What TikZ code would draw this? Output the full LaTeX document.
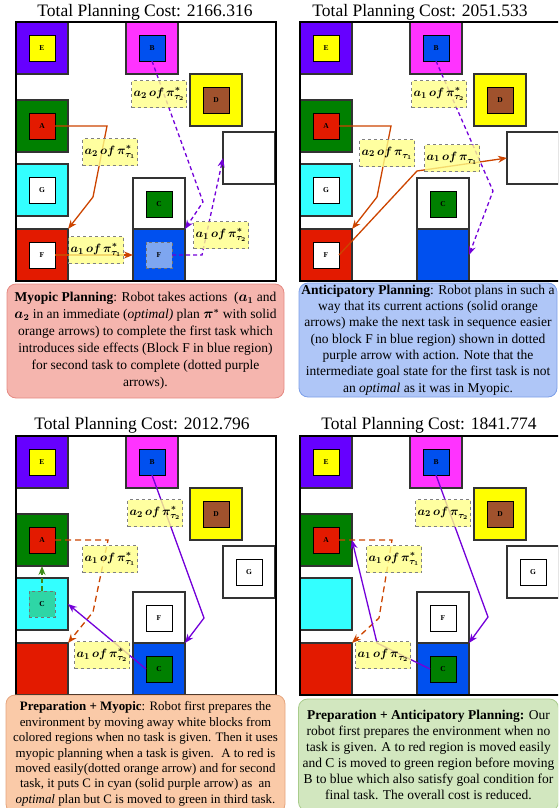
\documentclass[tikz,border=0pt]{standalone}
\usepackage{amsmath}
\usepackage{bm}
\usepackage{fontspec}
\setmainfont{Liberation Serif}
\usetikzlibrary{arrows.meta}
\definecolor{regviolet}{HTML}{6600FF}
\definecolor{regmagenta}{HTML}{FF33FF}
\definecolor{regyellow}{HTML}{FFFF00}
\definecolor{reggreen}{HTML}{008000}
\definecolor{regcyan}{HTML}{33FFFF}
\definecolor{regred}{HTML}{E31A00}
\definecolor{regblue}{HTML}{0050EF}
\definecolor{blkbrown}{HTML}{A0522D}
\definecolor{ghostblue}{HTML}{7EA6F0}
\definecolor{ghostteal}{HTML}{2ED6A6}
\definecolor{arrorange}{HTML}{CC4400}
\definecolor{arrpurple}{HTML}{7300D9}
\definecolor{arrgreen}{HTML}{3D8C1A}
\definecolor{tagfill}{HTML}{FFFF88}
\definecolor{capred}{HTML}{F5B5AE}
\definecolor{capredline}{HTML}{E58A83}
\definecolor{capblue}{HTML}{AFC6F7}
\definecolor{capblueline}{HTML}{7C9FE8}
\definecolor{caporange}{HTML}{FACAA8}
\definecolor{caporangeline}{HTML}{E5A57E}
\definecolor{capgreen}{HTML}{D2E7BF}
\definecolor{capgreenline}{HTML}{A9CC8C}
\tikzset{region/.style={draw=black!80,line width=1.1pt,minimum size=52pt,inner sep=0pt,outer sep=0pt},
  blk/.style={draw=black,line width=0.9pt,minimum size=26pt,inner sep=0pt,outer sep=0pt,font=\fontsize{7.5}{9}\selectfont\bfseries},
  ghost/.style={blk,dashed,draw=black!55},
  tagbox/.style={draw=black!50,dashed,line width=0.7pt,fill=tagfill,fill opacity=0.8,text opacity=1,inner sep=1pt,minimum width=55pt,minimum height=27pt,font=\fontsize{12.5}{14}\selectfont},
  actarrow/.style={line width=1.3pt,-{Stealth[length=9pt,width=7pt]}},
  dotted purple/.style={actarrow,arrpurple,dash pattern=on 4pt off 3pt},
  capbox/.style={rounded corners=9pt,align=center,inner sep=0pt,line width=0.8pt},
  titletext/.style={anchor=base,font=\fontsize{17.5}{20}\selectfont}}
\newcommand{\act}[3]{$\bm{a_{#1}\,of\,\pi^{#2}_{\tau_{#3}}}$}

\begin{document}
\begin{tikzpicture}[x=1pt,y=-1pt]
\useasboundingbox (0,0) rectangle (558,808);
\clip (0,0) rectangle (558,808);
\foreach \p/\x/\y in {1/16/22,2/300/22,3/16/436,4/300/436}{
  \node[region,fill=regviolet] (rE\p) at (\x+26,\y+26) {};
  \node[region,fill=regmagenta] (rB\p) at (\x+136,\y+26) {};
  \node[region,fill=regyellow] (rD\p) at (\x+200,\y+78) {};
  \node[region,fill=reggreen] (rA\p) at (\x+26,\y+104) {};
  \node[region,fill=regcyan] (rG\p) at (\x+26,\y+168) {};
  \node[region,fill=regred] (rF\p) at (\x+26,\y+233) {};
  \node[region,fill=white] (rW\p) at (\x+233,\y+136) {};
  \node[region,fill=white] (rC\p) at (\x+143,\y+182) {};
  \node[region,fill=regblue] (rL\p) at (\x+143,\y+233) {};
  \node[blk,fill=regyellow] (E\p) at (rE\p) {E};
  \node[blk,fill=regblue] (B\p) at (rB\p) {B};
  \node[blk,fill=blkbrown] (D\p) at (rD\p) {D};
  \node[blk,fill=regred] (A\p) at (rA\p) {A};
  \draw[line width=1.8pt] (\x,\y) rectangle ++(260,259);
}
\foreach \p in {1,2}{
  \node[blk,fill=white] (G\p) at (rG\p) {G};
  \node[blk,fill=white] (F\p) at (rF\p) {F};
  \node[blk,fill=reggreen] (C\p) at (rC\p) {C};
}
\foreach \p in {3,4}{
  \node[blk,fill=white] (G\p) at (rW\p) {G};
  \node[blk,fill=white] (F\p) at (rC\p) {F};
  \node[blk,fill=reggreen] (C\p) at (rL\p) {C};
}
\node[ghost,fill=ghostblue] (F1g) at (rL1) {F};
\node[ghost,fill=ghostteal] (C3g) at (rG3) {C};

\draw[actarrow,arrorange] (A1.east) -- ++(52,0) -- ++(-14,71) -- (rF1.north east);
\draw[actarrow,arrorange] (F1.east) -- (rL1.west);
\draw[dotted purple] (B1.south) -- ++(51,141) -- (rL1.north east);
\draw[dotted purple] (F1g.east) -- ++(30,0) -- (rW1.west);

\draw[actarrow,arrorange] (A2.east) -- ++(52,0) -- ++(-14,71) -- (rF2.north east);
\draw[actarrow,arrorange] (F2.east) -- ++(78,-84) -- (rW2.west);
\draw[dotted purple] (B2.south) -- ++(57,130) -- (rL2.east);

\draw[actarrow,arrorange,dash pattern=on 6pt off 4pt] (A3.east) -- ++(53,0) -- ++(-15,72) -- (rF3.north east);
\draw[actarrow,arrgreen,dash pattern=on 5pt off 3pt] (C3g.north) -- (rA3.south);
\draw[actarrow,arrpurple] (B3.south) -- ++(52,143) -- (rL3.north east);
\draw[actarrow,arrpurple] (C3.west) -- (rG3.east);

\draw[actarrow,arrorange,dash pattern=on 6pt off 4pt] (A4.east) -- ++(53,0) -- ++(-13,78) -- (rF4.north east);
\draw[actarrow,arrpurple] (B4.south) -- ++(52,142) -- (rL4.north east);
\draw[actarrow,arrpurple] (C4.west) -- ++(-53,-26) -- (rA4.east);

\node[tagbox] (t1a) at (159,94) {\act{2}{*}{2}};
\node[tagbox] (t1b) at (110,152) {\act{2}{*}{1}};
\node[tagbox] (t1c) at (96,250) {\act{1}{*}{1}};
\node[tagbox] (t1d) at (221,235) {\act{1}{*}{2}};
\node[tagbox] (t2a) at (439,94) {\act{1}{*}{2}};
\node[tagbox] (t2b) at (387,153) {\act{2}{}{1}};
\node[tagbox] (t2c) at (452,158) {\act{1}{}{1}};
\node[tagbox] (t3a) at (155,513) {\act{2}{*}{2}};
\node[tagbox] (t3b) at (110,559) {\act{1}{*}{1}};
\node[tagbox] (t3c) at (102,655) {\act{1}{*}{2}};
\node[tagbox] (t4a) at (443,513) {\act{2}{}{2}};
\node[tagbox] (t4b) at (394,559) {\act{1}{*}{1}};
\node[tagbox] (t4c) at (383,655) {\act{1}{}{2}};

\node[titletext] (T1) at (145,17) {Total Planning Cost: 2166.316};
\node[titletext] (T2) at (420,17) {Total Planning Cost: 2051.533};
\node[titletext] (T3) at (142,429) {Total Planning Cost: 2012.796};
\node[titletext] (T4) at (429,429) {Total Planning Cost: 1841.774};

\node[capbox,draw=capredline,fill=capred,minimum width=277pt,minimum height=114pt,font=\fontsize{13.5}{17}\selectfont] (cap1) at (145.5,341)
  {\textbf{Myopic Planning}: Robot takes actions \ ($\bm{a_1}$ and\\
   $\bm{a_2}$ in an immediate (\textit{optimal)} plan $\bm{\pi^*}$ with solid\\
   orange arrows) to complete the first task which\\
   introduces side effects (Block F in blue region)\\
   for second task to complete (dotted purple\\
   arrows).};
\node[capbox,draw=capblueline,fill=capblue,minimum width=258pt,minimum height=114pt,font=\fontsize{13.5}{16.3}\selectfont] (cap2) at (428,340)
  {\textbf{Anticipatory Planning}: Robot plans in such a\\
   way that its current actions (solid orange\\
   arrows) make the next task in sequence easier\\
   (no block F in blue region) shown in dotted\\
   purple arrow with action. Note that the\\
   intermediate goal state for the first task is not\\
   an \textit{optimal} as it was in Myopic.};
\node[capbox,draw=caporangeline,fill=caporange,minimum width=279pt,minimum height=118pt,font=\fontsize{12.9}{15.4}\selectfont] (cap3) at (145.5,754)
  {\textbf{Preparation + Myopic}: Robot first prepares the\\
   environment by moving away white blocks from\\
   colored regions when no task is given. Then it uses\\
   myopic planning when a task is given. \ A to red is\\
   moved easily(dotted orange arrow) and for second\\
   task, it puts C in cyan (solid purple arrow) as \ an\\
   \textit{optimal} plan but C is moved to green in third task.};
\node[capbox,draw=capgreenline,fill=capgreen,minimum width=260pt,minimum height=112pt,font=\fontsize{13.5}{16}\selectfont] (cap4) at (428.5,755)
  {\textbf{Preparation + Anticipatory Planning:} Our\\
   robot first prepares the environment when no\\
   task is given. A to red region is moved easily\\
   and C is moved to green region before moving\\
   B to blue which also satisfy goal condition for\\
   final task. The overall cost is reduced.};
\end{tikzpicture}
\end{document}
